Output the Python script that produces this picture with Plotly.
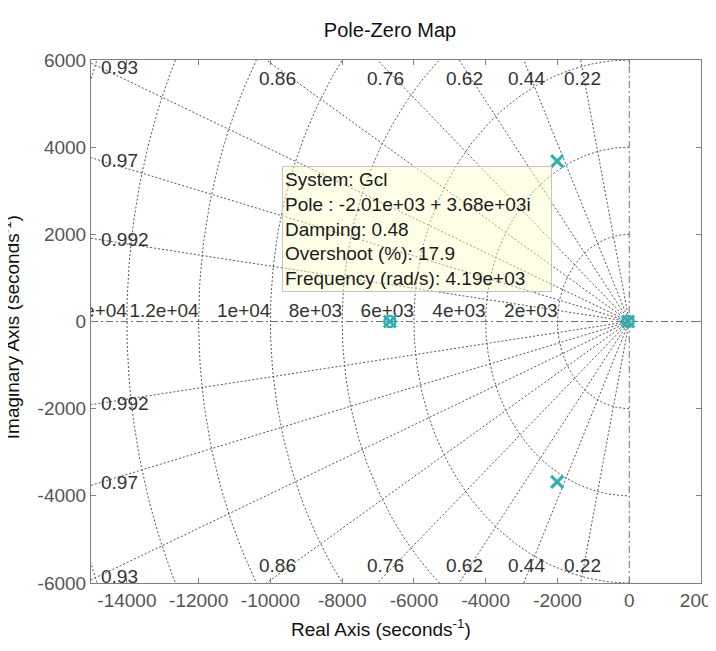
import numpy as np
import plotly.graph_objects as go

# Pole-zero data
POLE_RE = [-2010, -2010, -6670, -30]
POLE_IM = [3680, -3680, 0, 0]
ZERO_RE = [-6670, -30]
ZERO_IM = [0, 0]

# sgrid values
ZETAS = [0.22, 0.44, 0.62, 0.76, 0.86, 0.93, 0.97, 0.992]
WNS = [2000, 4000, 6000, 8000, 10000, 12000, 14000, 16000]

X_TICKS = [-14000, -12000, -10000, -8000, -6000, -4000, -2000, 0, 2000]
Y_TICKS = [-6000, -4000, -2000, 0, 2000, 4000, 6000]
X_RANGE = [-15000, 2000]
Y_RANGE = [-6000, 6000]

DATATIP = [
    'System: Gcl',
    'Pole : -2.01e+03 + 3.68e+03i',
    'Damping: 0.48',
    'Overshoot (%): 17.9',
    'Frequency (rad/s): 4.19e+03',
]

FONT = 'Liberation Sans, Arial, sans-serif'
GRID = dict(color='#555555', width=1, dash='2px,2px')
MARK = '#2fb0ae'

fig = go.Figure()

# natural frequency semicircles
theta = np.linspace(np.pi / 2, 3 * np.pi / 2, 241)
for wn in WNS:
    fig.add_trace(go.Scatter(
        x=wn * np.cos(theta), y=wn * np.sin(theta),
        mode='lines', line=GRID, hoverinfo='skip', showlegend=False
    ))

# damping rays
far = 40000
for z in ZETAS:
    s = np.sqrt(1 - z ** 2)
    fig.add_trace(go.Scatter(
        x=[-far * z, 0, -far * z], y=[far * s, 0, -far * s],
        mode='lines', line=GRID, hoverinfo='skip', showlegend=False
    ))

# zero lines (dash-dot)
dashdot = dict(color='#707070', width=1, dash='7px,3px,2px,3px')
fig.add_trace(go.Scatter(x=X_RANGE, y=[0, 0], mode='lines', line=dashdot,
                         hoverinfo='skip', showlegend=False))
fig.add_trace(go.Scatter(x=[0, 0], y=Y_RANGE, mode='lines', line=dashdot,
                         hoverinfo='skip', showlegend=False))

# wn labels on the real axis (clipped by the axes)
fig.add_trace(go.Scatter(
    x=[-wn for wn in WNS[:-1]], y=[0] * (len(WNS) - 1),
    mode='text', text=['%.2g' % wn for wn in WNS[:-1]],
    textposition='top left',
    textfont=dict(family=FONT, size=19, color='#333333'),
    hoverinfo='skip', showlegend=False
))

# poles and zeros
fig.add_trace(go.Scatter(
    x=ZERO_RE, y=ZERO_IM, mode='markers',
    marker=dict(symbol='circle-open', size=11, color=MARK, line=dict(width=2.5)),
    showlegend=False
))
fig.add_trace(go.Scatter(
    x=POLE_RE, y=POLE_IM, mode='markers',
    marker=dict(symbol='x-thin', size=12, color=MARK, line=dict(width=3, color=MARK)),
    showlegend=False
))

# damping labels
ann = []
lab_font = dict(family=FONT, size=19, color='#333333')
for z in ZETAS:
    t = np.sqrt(1 - z ** 2) / z
    x_top = -Y_RANGE[1] / t
    if x_top > X_RANGE[0]:
        xl = -0.97 * Y_RANGE[1] / t
        ann.append(dict(x=xl, y=Y_RANGE[1], yshift=-18, text=str(z),
                        xanchor='center', yanchor='middle', showarrow=False, font=lab_font))
        ann.append(dict(x=xl, y=Y_RANGE[0], yshift=18, text=str(z),
                        xanchor='center', yanchor='middle', showarrow=False, font=lab_font))
    else:
        yl = -0.985 * X_RANGE[0] * t
        ann.append(dict(x=X_RANGE[0], y=yl, xshift=8, text=str(z),
                        xanchor='left', yanchor='middle', showarrow=False, font=lab_font))
        ann.append(dict(x=X_RANGE[0], y=-yl, xshift=8, text=str(z),
                        xanchor='left', yanchor='middle', showarrow=False, font=lab_font))

# data tip box
ann.append(dict(
    x=POLE_RE[0], y=POLE_IM[0], xshift=-5, yshift=-5,
    xanchor='right', yanchor='top', showarrow=False, align='left',
    text='<br>'.join(DATATIP), width=264, height=120,
    bgcolor='rgba(255,255,205,0.45)', bordercolor='#c4c4c4', borderwidth=1, borderpad=2,
    font=dict(family=FONT, size=19, color='#1a1a1a')
))

# axis labels
ann.append(dict(
    x=0.475, y=-0.06, xref='paper', yref='paper', yanchor='top',
    text='Real Axis (seconds<sup>-1</sup>)', showarrow=False,
    font=dict(family=FONT, size=19, color='#111111')
))
ann.append(dict(
    x=-0.132, y=0.49, xref='paper', yref='paper', xanchor='center', yanchor='middle',
    text='Imaginary Axis (seconds<sup>-1</sup>)', showarrow=False, textangle=-90,
    font=dict(family=FONT, size=19, color='#111111')
))

axis = dict(
    showgrid=False, zeroline=False, showline=True, linecolor='#808080', linewidth=1,
    mirror='ticks', ticks='inside', ticklen=5, tickcolor='#808080', automargin=False,
    tickfont=dict(family=FONT, size=19, color='#555555'),
)

fig.update_layout(
    width=716, height=651,
    margin=dict(l=83, r=23, t=52, b=76),
    paper_bgcolor='white', plot_bgcolor='white',
    title=dict(text='Pole-Zero Map', x=382 / 716, xanchor='center',
               y=1 - 22 / 651, yanchor='middle',
               font=dict(family=FONT, size=20, color='#111111')),
    xaxis=dict(axis, range=X_RANGE, tickvals=X_TICKS,
               ticktext=[str(v) for v in X_TICKS]),
    yaxis=dict(axis, range=Y_RANGE, tickvals=Y_TICKS,
               ticktext=[str(v) for v in Y_TICKS]),
    annotations=ann,
)

fig.write_html('out.html')
